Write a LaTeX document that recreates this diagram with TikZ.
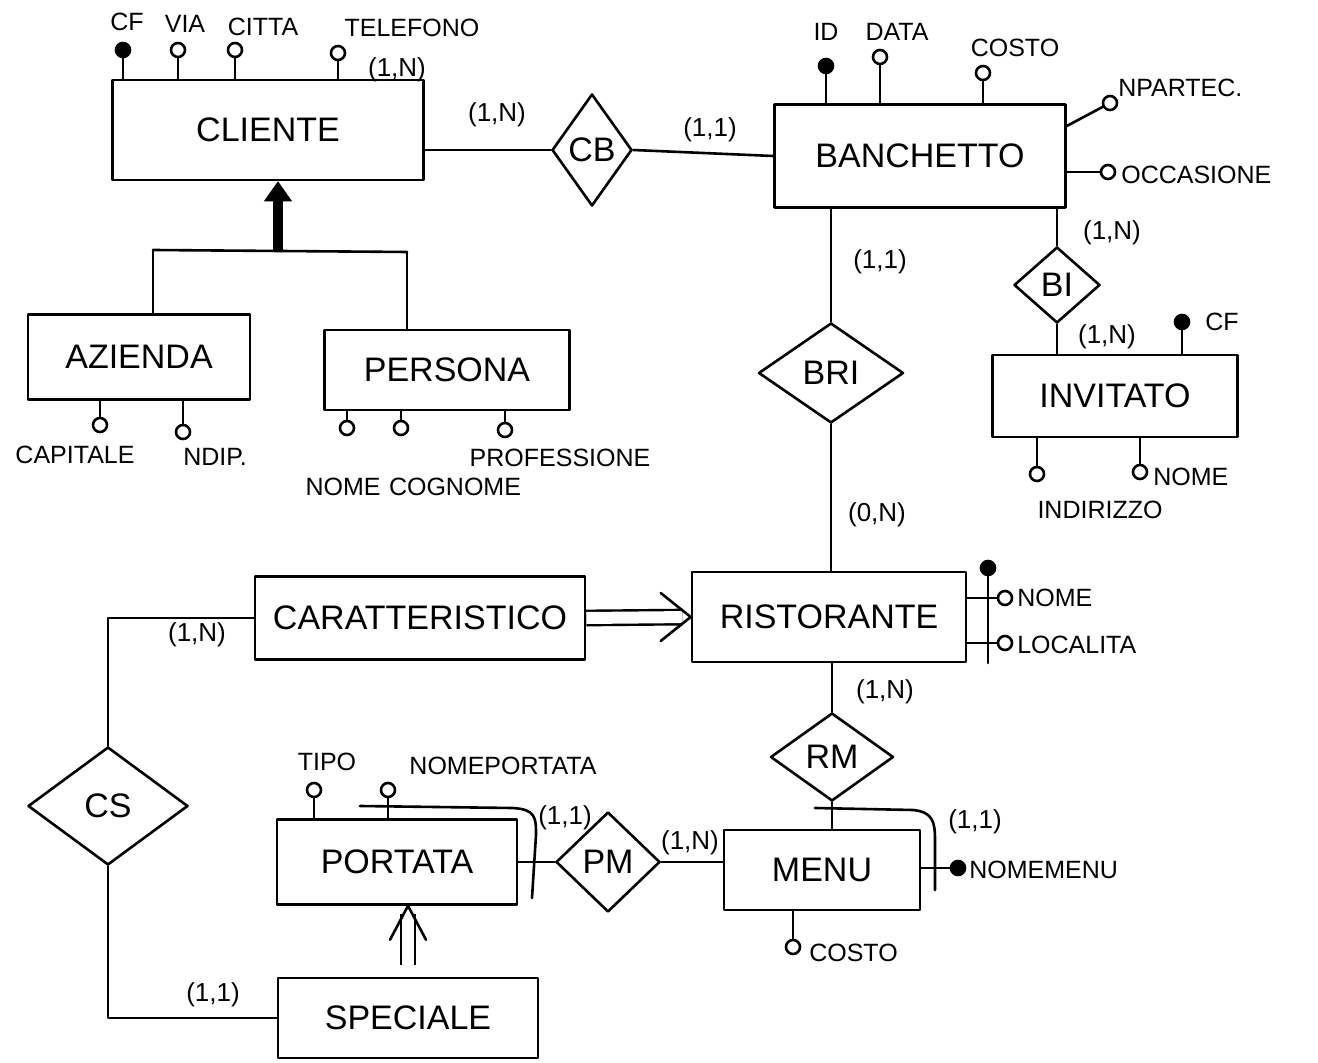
\documentclass[tikz,border=0pt]{standalone}
\usepackage{fontspec}
\setmainfont{Liberation Sans}
\usetikzlibrary{shapes.geometric,arrows.meta,calc}

\begin{document}
\begin{tikzpicture}[x=0.5pt,y=-0.5pt, line width=1.3pt, line join=round, line cap=round,
  ent/.style={draw, rectangle, inner sep=0pt, font=\fontsize{17}{20}\selectfont},
  rel/.style={draw, diamond, inner sep=0pt, font=\fontsize{17}{20}\selectfont},
  attr/.style={draw, circle, fill=white, minimum size=7pt, inner sep=0pt},
  keyattr/.style={attr, fill=black},
  atxt/.style={inner sep=0pt, font=\fontsize{12.5}{15}\selectfont},
  card/.style={inner sep=0pt, font=\fontsize{13}{15}\selectfont},
  isa/.style={double, double distance=6pt, line width=1.2pt, line cap=butt},
]
\fill[white] (0,0) rectangle (1318,1063);
\useasboundingbox (0,0) rectangle (1318,1063);

% ---------- entities ----------
\node[ent, minimum width=155.5pt, minimum height=50pt]   (cliente)    at (268,130)  {CLIENTE};
\node[ent, minimum width=145.5pt, minimum height=51.5pt] (banchetto)  at (920,156)  {BANCHETTO};
\node[ent, minimum width=111pt,   minimum height=42.5pt] (azienda)    at (139,357)  {AZIENDA};
\node[ent, minimum width=122.5pt, minimum height=40pt]   (persona)    at (447,370)  {PERSONA};
\node[ent, minimum width=122.5pt, minimum height=41pt]   (invitato)   at (1115,396) {INVITATO};
\node[ent, minimum width=165pt,   minimum height=41.5pt] (caratt)     at (420,618)  {CARATTERISTICO};
\node[ent, minimum width=137pt,   minimum height=45pt]   (ristorante) at (829,617)  {RISTORANTE};
\node[ent, minimum width=120pt,   minimum height=42.5pt] (portata)    at (397,862)  {PORTATA};
\node[ent, minimum width=98pt,    minimum height=40pt]   (menu)       at (822,870)  {MENU};
\node[ent, minimum width=130pt,   minimum height=40pt]   (speciale)   at (408,1018) {SPECIALE};

% ---------- relationships ----------
\node[rel, minimum width=40pt,   minimum height=56pt] (cb)  at (592,150)  {CB};
\node[rel, minimum width=72.5pt, minimum height=50pt] (bri) at (831,373)  {BRI};
\node[rel, minimum width=43pt,   minimum height=38pt] (bi)  at (1057,285) {BI};
\node[rel, minimum width=61.5pt, minimum height=44pt] (rm)  at (832,757)  {RM};
\node[rel, minimum width=52pt,   minimum height=50pt] (pm)  at (608,862)  {PM};
\node[rel, minimum width=80pt,   minimum height=59pt] (cs)  at (108,806)  {CS};

% ---------- relationship links ----------
\draw (cb.west) -- (cb.west -| cliente.east);
\draw (cb.east) -- (banchetto.west);
\draw (bri.north) -- (bri.north |- banchetto.south);
\draw (bri.south) -- (bri.south |- ristorante.north);
\draw (bi.north) -- (bi.north |- banchetto.south);
\draw (bi.south) -- (bi.south |- invitato.north);
\draw (rm.north) -- (rm.north |- ristorante.south);
\draw (rm.south) -- (rm.south |- menu.north);
\draw (pm.west) -- (pm.west -| portata.east);
\draw (pm.east) -- (pm.east -| menu.west);
\draw (cs.north) |- (caratt.west);
\draw (cs.south) |- (speciale.west);

% ---------- cardinalities ----------
\node[card] (c1) at (497,115)  {(1,N)};
\node[card] (c2) at (710,130)  {(1,1)};
\node[card] (c3) at (880,262)  {(1,1)};
\node[card] (c4) at (877,515)  {(0,N)};
\node[card] (c5) at (1112,233) {(1,N)};
\node[card] (c6) at (1107,337) {(1,N)};
\node[card] (c7) at (885,692)  {(1,N)};
\node[card] (c8) at (975,822)  {(1,1)};
\node[card] (c9) at (690,843)  {(1,N)};
\node[card] (c10) at (565,818) {(1,1)};
\node[card] (c11) at (197,635) {(1,N)};
\node[card] (c12) at (213,995) {(1,1)};

% ---------- generalization of CLIENTE ----------
\coordinate (genL) at (153,250);
\coordinate (genR) at (407,252);
\coordinate (genM) at (278,251);
\draw (genL) -- (genR);
\draw (genL) -- (genL |- azienda.north);
\draw (genR) -- (genR |- persona.north);
\draw[line width=5pt, line cap=butt, -{Triangle[length=10pt,width=14pt,line width=0.5pt]}]
  (genM) -- (genM |- cliente.south);

% ---------- subsets ----------
\draw[isa, shorten >=4pt] (caratt.east) -- (ristorante.west);
\draw (ristorante.west) ++(-30,-24) -- (ristorante.west) -- ++(-30,24);
\draw[isa, shorten <=6pt, shorten >=4pt] (speciale.north) -- (speciale.north |- portata.south);
\draw (portata.south -| speciale.north) ++(-18,34) -- (portata.south -| speciale.north) -- ++(18,34);

% ---------- CLIENTE attributes ----------
\node[keyattr] (cfC)    at (123,50) {};
\node[attr]    (viaC)   at (178,50) {};
\node[attr]    (cittaC) at (235,50) {};
\node[attr]    (telC)   at (338,53) {};
\foreach \a in {cfC,viaC,cittaC,telC} \draw (\a) -- (\a |- cliente.north);
\node[atxt] (cfCt)    at (127,22) {CF};
\node[atxt] (viaCt)   at (185,24) {VIA};
\node[atxt] (cittaCt) at (263,27) {CITTA};
\node[atxt] (telCt)   at (412,28) {TELEFONO};
\node[card] (telCard) at (397,70) {(1,N)};

% ---------- BANCHETTO attributes ----------
\node[keyattr] (idB)    at (826,66)  {};
\node[attr]    (dataB)  at (880,57)  {};
\node[attr]    (costoB) at (983,73)  {};
\foreach \a in {idB,dataB,costoB} \draw (\a) -- (\a |- banchetto.north);
\node[atxt] (idBt)    at (826,32)  {ID};
\node[atxt] (dataBt)  at (897,32)  {DATA};
\node[atxt] (costoBt) at (1015,48) {COSTO};
\node[attr] (npB) at (1110,103) {};
\draw (npB) -- ($(banchetto.east)+(0,-30)$);
\node[atxt, anchor=west] (npBt) at (1117,88) {NPARTEC.};
\node[attr] (occB) at (1108,172) {};
\draw (occB) -- (occB -| banchetto.east);
\node[atxt, anchor=west] (occBt) at (1120,175) {OCCASIONE};

% ---------- INVITATO attributes ----------
\node[keyattr] (cfI) at (1182,322) {};
\draw (cfI) -- (cfI |- invitato.north);
\node[atxt] (cfIt) at (1222,322) {CF};
\node[attr] (indI) at (1037,474) {};
\draw (indI) -- (indI |- invitato.south);
\node[atxt] (indIt) at (1100,510) {INDIRIZZO};
\node[attr] (nomeI) at (1140,472) {};
\draw (nomeI) -- (nomeI |- invitato.south);
\node[atxt, anchor=west] (nomeIt) at (1152,477) {NOME};

% ---------- AZIENDA / PERSONA attributes ----------
\node[attr] (capA)  at (100,425) {};
\node[attr] (ndipA) at (183,432) {};
\foreach \a in {capA,ndipA} \draw (\a) -- (\a |- azienda.south);
\node[atxt] (capAt)  at (75,455)  {CAPITALE};
\node[atxt] (ndipAt) at (215,457) {NDIP.};
\node[attr] (nomeP)    at (347,428) {};
\node[attr] (cognomeP) at (401,428) {};
\node[attr] (profP)    at (505,430) {};
\foreach \a in {nomeP,cognomeP,profP} \draw (\a) -- (\a |- persona.south);
\node[atxt] (nomePt)    at (343,487) {NOME};
\node[atxt] (cognomePt) at (455,487) {COGNOME};
\node[atxt] (profPt)    at (560,458) {PROFESSIONE};

% ---------- RISTORANTE composite identifier ----------
\node[attr] (nomeR) at (1005,598) {};
\node[attr] (locR)  at (1005,643) {};
\draw (nomeR) -- (nomeR -| ristorante.east);
\draw (locR) -- (locR -| ristorante.east);
\node[keyattr] (idR) at (988,568) {};
\draw (idR) -- ($(idR |- locR)+(0,20)$);
\node[atxt, anchor=west] (nomeRt) at (1016,598) {NOME};
\node[atxt, anchor=west] (locRt)  at (1016,645) {LOCALITA};

% ---------- PORTATA attributes and external identifier ----------
\node[attr] (tipoP)  at (314,790) {};
\node[attr] (nomePP) at (388,790) {};
\foreach \a in {tipoP,nomePP} \draw (\a) -- (\a |- portata.north);
\node[atxt] (tipoPt)  at (327,762) {TIPO};
\node[atxt] (nomePPt) at (503,766) {NOMEPORTATA};
\coordinate (pxa) at (360,806);
\coordinate (pxb) at (512,808);
\coordinate (pxc) at (536,835);
\coordinate (pxd) at (532,898);
\draw (pxa) -- (pxb) .. controls (536,809) and (536,818) .. (pxc) -- (pxd);

% ---------- MENU attributes and external identifier ----------
\node[keyattr] (nomeM) at (958,868) {};
\draw (nomeM) -- (nomeM -| menu.east);
\node[atxt, anchor=west] (nomeMt) at (968,870) {NOMEMENU};
\node[attr] (costoM) at (793,947) {};
\draw (costoM) -- (costoM |- menu.south);
\node[atxt, anchor=west] (costoMt) at (808,953) {COSTO};
\coordinate (mxa) at (815,808);
\coordinate (mxb) at (913,810);
\coordinate (mxc) at (935,840);
\coordinate (mxd) at (935,890);
\draw (mxa) -- (mxb) .. controls (933,812) and (935,822) .. (mxc) -- (mxd);
\end{tikzpicture}
\end{document}
